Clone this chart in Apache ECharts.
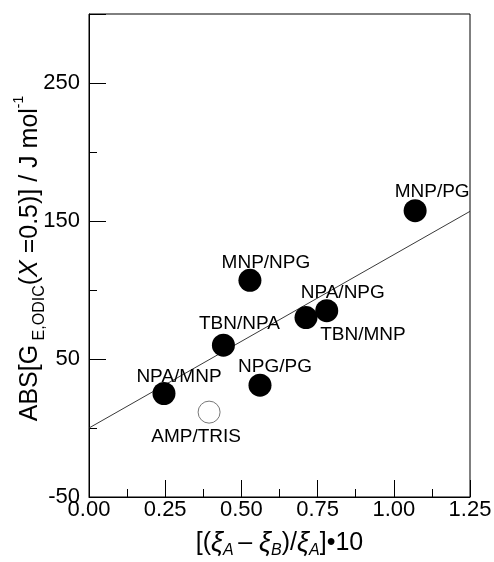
<!DOCTYPE html>
<html>
<head>
<meta charset="utf-8">
<script src="https://cdn.jsdelivr.net/npm/echarts@6/dist/echarts.min.js"></script>
<style>
  html, body { margin: 0; padding: 0; background: #fff; }
  #chart { width: 494px; height: 562px; }
</style>
</head>
<body>
<div id="chart"></div>
<script>
// data
const pairNames = ["NPA/MNP", "TBN/NPA", "MNP/NPG", "NPG/PG", "TBN/MNP", "NPA/NPG", "MNP/PG"];
const xValues = [0.246, 0.441, 0.528, 0.561, 0.712, 0.780, 1.070];
const yValues = [25, 60, 107, 31, 80, 85, 157.5];

const openNames = ["AMP/TRIS"];
const openX = [0.394];
const openY = [11.5];

// linear fit drawn across the plot
const fitX = [0, 1.25];
const fitY = [0, 157];

const xTicks = ["0.00", "0.25", "0.50", "0.75", "1.00", "1.25"];
const yTicks = [-50, 50, 150, 250];

// label placement (pixels, relative to marker centre)
const labelOffsets = [[15, -17], [16, -21], [16, -18], [15, -18], [57, 17], [16, -18], [17, -19]];
const openLabelOffsets = [[-13, 25]];

const FONT = "Liberation Sans";

var myChart = echarts.init(document.getElementById("chart"));

let filled = xValues.map((x, i) => ({
    value: [x, yValues[i]],
    name: pairNames[i],
    label: { offset: labelOffsets[i] }
}));
let open = openX.map((x, i) => ({
    value: [x, openY[i]],
    name: openNames[i],
    label: { offset: openLabelOffsets[i] }
}));

let labelStyle = {
    show: true,
    position: "inside",
    formatter: p => p.name,
    fontFamily: FONT,
    fontSize: 19,
    color: "#000"
};

var option = {
    animation: false,
    backgroundColor: "#fff",
    grid: {
        left: 89, right: 24, top: 14, bottom: 65,
        outerBoundsMode: "none",
        containLabel: false,
        show: true, borderColor: "#000", borderWidth: 1
    },
    xAxis: {
        type: "value",
        min: 0, max: 1.25, interval: 0.25,
        axisLine: { onZero: false, lineStyle: { color: "#000", width: 1 } },
        axisTick: { inside: true, length: 17, lineStyle: { color: "#000" } },
        minorTick: { show: true, splitNumber: 2, length: 8, lineStyle: { color: "#000" } },
        splitLine: { show: false },
        axisLabel: {
            margin: 2,
            fontFamily: FONT, fontSize: 22, color: "#000",
            formatter: v => xTicks[Math.round(v / 0.25)]
        },
        name: "{a|[(}{g|ξ}{s|A }{a|– }{g|ξ}{s|B}{a|)/}{g|ξ}{s|A}{a|]•10}",
        nameLocation: "middle",
        nameGap: 30,
        nameMoveOverlap: false,
        nameTextStyle: {
            rich: {
                a: { fontFamily: FONT, fontSize: 25, color: "#000", lineHeight: 32, verticalAlign: "middle" },
                g: { fontFamily: FONT, fontSize: 27, fontStyle: "italic", color: "#000", lineHeight: 32, verticalAlign: "middle" },
                s: { fontFamily: FONT, fontSize: 16, fontStyle: "italic", color: "#000", lineHeight: 32, verticalAlign: "bottom" }
            }
        }
    },
    yAxis: [{
        type: "value",
        min: -50, max: 300, interval: 100,
        axisLine: { onZero: false, lineStyle: { color: "#000", width: 1 } },
        axisTick: { inside: true, length: 17, lineStyle: { color: "#000" } },
        splitLine: { show: false },
        axisLabel: {
            margin: 9,
            fontFamily: FONT, fontSize: 22, color: "#000",
            formatter: v => (yTicks.indexOf(v) >= 0 ? String(v) : "")
        },
        name: "{a|ABS[G}{s| E,ODIC}{a|(}{i|X}{a| =0.5)] / J mol}{p|-1}",
        nameLocation: "middle",
        nameGap: 41,
        nameMoveOverlap: false,
        nameTextStyle: {
            padding: [0, 6, 0, 0],
            rich: {
                a: { fontFamily: FONT, fontSize: 25, color: "#000", lineHeight: 36, verticalAlign: "middle" },
                i: { fontFamily: FONT, fontSize: 25, fontStyle: "italic", color: "#000", lineHeight: 36, verticalAlign: "middle" },
                s: { fontFamily: FONT, fontSize: 16, color: "#000", lineHeight: 36, verticalAlign: "bottom" },
                p: { fontFamily: FONT, fontSize: 14, color: "#000", lineHeight: 36, verticalAlign: "top" }
            }
        }
    }, {
        type: "value",
        position: "left",
        min: -50, max: 300, interval: 50,
        axisLine: { show: false, onZero: false },
        axisTick: { inside: true, length: 8, lineStyle: { color: "#000" } },
        splitLine: { show: false },
        axisLabel: { show: false }
    }],
    series: [{
        type: "line",
        data: fitX.map((x, i) => [x, fitY[i]]),
        symbol: "none",
        lineStyle: { color: "#222", width: 0.9 },
        z: 1
    }, {
        type: "scatter",
        data: filled,
        symbol: "circle",
        symbolSize: 23,
        itemStyle: { color: "#000", opacity: 1 },
        label: labelStyle,
        z: 3
    }, {
        type: "scatter",
        data: open,
        symbol: "circle",
        symbolSize: 22,
        itemStyle: { color: "#fff", borderColor: "#777", borderWidth: 1, opacity: 1 },
        label: labelStyle,
        z: 3
    }]
};

option && myChart.setOption(option);
</script>
</body>
</html>
